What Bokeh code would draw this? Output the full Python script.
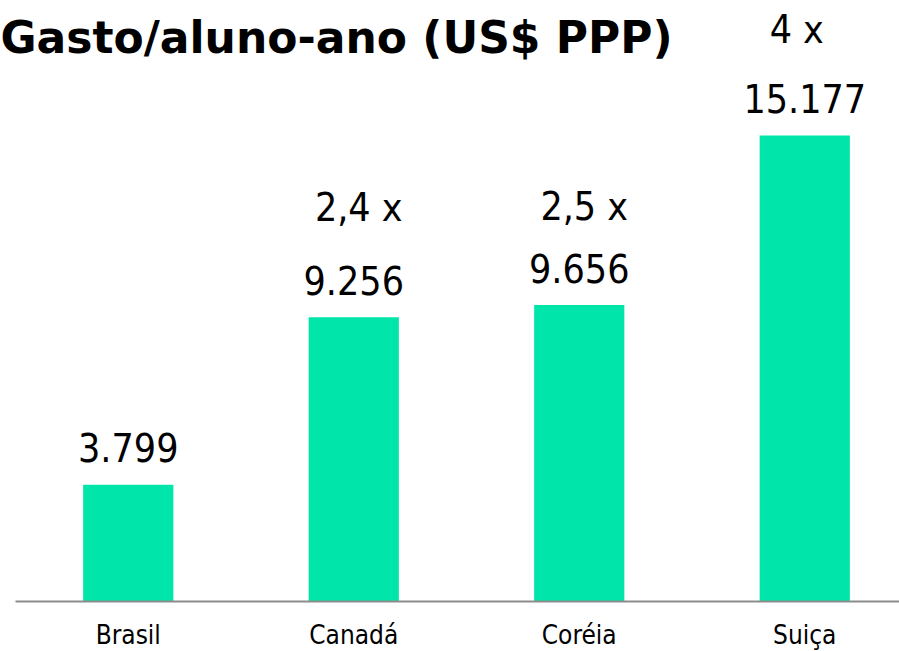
from bokeh.plotting import figure
from bokeh.models import ColumnDataSource, Range1d, Label, LabelSet
from bokeh.core.properties import value
from bokeh.embed import file_html
from bokeh.resources import INLINE

categories = ["Brasil", "Canadá", "Coréia", "Suiça"]
spending = [3799, 9256, 9656, 15177]
multipliers = ["", "2,4 x", "2,5 x", "4 x"]
title_text = "Gasto/aluno-ano (US$ PPP)"

# style / placement (screen px)
mult_dy = [0, -110, -99, -106]
mult_dx = [0, 5, 5, -8]

FONT = "DejaVu Sans Condensed"
BAR = "#00E6AA"

xs = list(range(len(categories)))
src = ColumnDataSource(dict(
    x=xs,
    v=spending,
    zero=[0] * len(xs),
    cat=categories,
    lab=[f"{v:,}".replace(",", ".") for v in spending],
    mult=multipliers,
    mdy=mult_dy,
    mdx=mult_dx,
))

W, H = 899, 651
x0 = -0.5 - 15 / 225.5
x1 = x0 + W / 225.5
p = figure(width=W, height=H, output_backend="svg", toolbar_location=None,
           x_range=Range1d(x0, x1), y_range=Range1d(-50 / 0.0307, 601 / 0.0307),
           min_border=0)
p.outline_line_color = None
p.grid.visible = False
p.xaxis.visible = False
p.yaxis.visible = False
p.background_fill_color = "white"
p.border_fill_color = "white"

p.vbar(x="x", top="v", width=0.4, bottom=0, source=src, color=BAR, line_color=None)

# baseline (category axis line)
p.segment(x0=[-0.5], y0=[0], x1=[x1], y1=[0], line_color="#8c8c8c", line_width=2)

p.text(x="x", y="v", text="lab", source=src, y_offset=-37,
       text_align="center", text_baseline="alphabetic",
       text_font=value(FONT), text_font_size="39px", text_color="black")
p.text(x="x", y="v", text="mult", source=src, y_offset="mdy", x_offset="mdx",
       text_align="center", text_baseline="alphabetic",
       text_font=value(FONT), text_font_size="39px", text_color="black")

p.add_layout(LabelSet(x="x", y="zero", text="cat", source=src, y_offset=-42,
                      text_align="center", text_baseline="alphabetic",
                      text_font=value(FONT), text_font_size="26px",
                      text_color="black"))

p.add_layout(Label(x=0, y=614, x_units="screen", y_units="screen",
                   text=title_text, text_font="DejaVu Sans", text_font_style="bold",
                   text_font_size="44px", text_baseline="alphabetic",
                   text_color="black"))

open("out.html", "w").write(file_html(p, INLINE))
